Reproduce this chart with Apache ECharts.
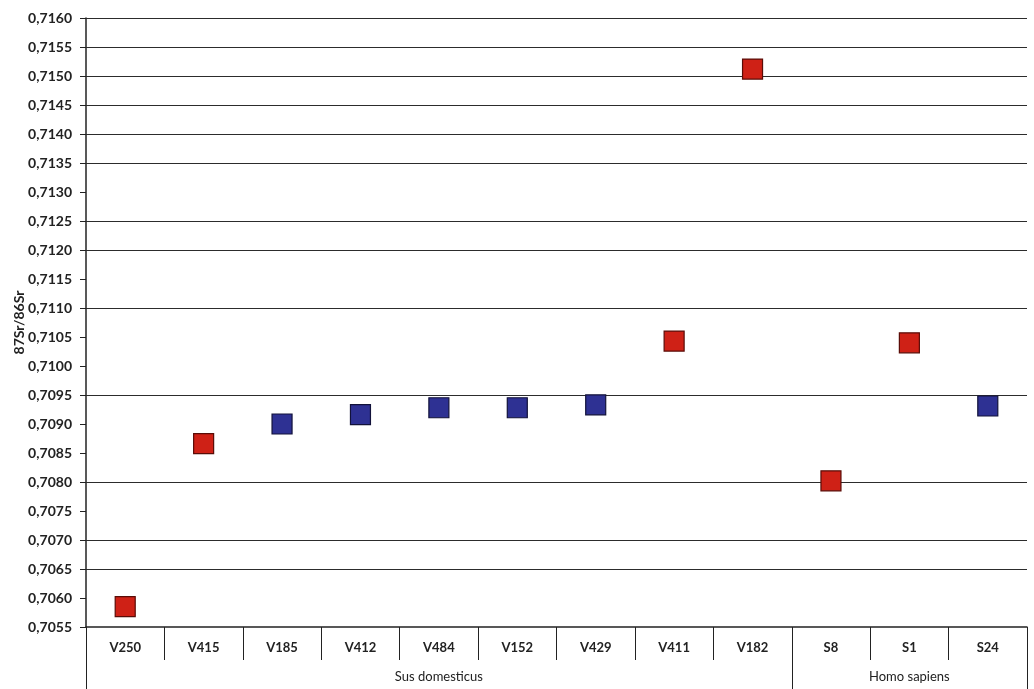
<!DOCTYPE html>
<html>
<head>
<meta charset="utf-8">
<script src="https://cdn.jsdelivr.net/npm/echarts@6/dist/echarts.min.js"></script>
<style>
  html, body { margin: 0; padding: 0; background: #fff; }
  #chart { width: 1034px; height: 689px; }
</style>
</head>
<body>
<div id="chart"></div>
<script>
// sample labels and group labels
const samples = ['V250', 'V415', 'V185', 'V412', 'V484', 'V152', 'V429', 'V411', 'V182', 'S8', 'S1', 'S24'];
const groups = ['', '', '', '', 'Sus domesticus', '', '', '', '', '', 'Homo sapiens', ''];
// 87Sr/86Sr values, red and blue markers
const redValues = [0.70585, 0.70866, '-', '-', '-', '-', '-', 0.71043, 0.71512, 0.70802, 0.71040, '-'];
const blueValues = ['-', '-', 0.70900, 0.70916, 0.70928, 0.70928, 0.70933, '-', '-', '-', '-', 0.70931];
// gridlines that are visible in the figure
const gridValues = [0.7160, 0.7155, 0.7150, 0.7145, 0.7140, 0.7135, 0.7125, 0.7120, 0.7110, 0.7095, 0.7080, 0.7070, 0.7065];

const chart = echarts.init(document.getElementById('chart'));
const font = 'Lato, "Liberation Sans", sans-serif';

chart.setOption({
  animation: false,
  textStyle: { fontFamily: font },
  grid: { left: 86, right: 7, top: 18, bottom: 62, outerBoundsMode: 'none' },
  xAxis: [
    {
      type: 'category',
      data: samples,
      axisLine: { lineStyle: { color: '#222', width: 1.5 } },
      axisTick: { show: true, length: 33, interval: 0, lineStyle: { color: '#222', width: 1 } },
      axisLabel: { interval: 0, margin: 14, fontSize: 13, fontWeight: 'bold', color: '#222', fontFamily: font }
    },
    {
      type: 'category',
      data: groups,
      position: 'bottom',
      offset: 33,
      axisLine: { show: false },
      axisTick: {
        show: true, length: 30,
        interval: function (i) { return i === 0 || i === 9; },
        lineStyle: { color: '#222', width: 1 }
      },
      axisLabel: { interval: 0, margin: 10, fontSize: 13, color: '#222', fontFamily: font }
    }
  ],
  yAxis: {
    type: 'value',
    min: 0.7055,
    max: 0.7160,
    interval: 0.0005,
    name: '87Sr/86Sr',
    nameLocation: 'middle',
    nameGap: 60,
    nameMoveOverlap: false,
    nameTextStyle: { fontSize: 14, fontWeight: 'bold', color: '#222', fontFamily: font },
    axisLine: { show: true, lineStyle: { color: '#222', width: 1.5 } },
    axisTick: { show: true, length: 6, lineStyle: { color: '#222' } },
    splitLine: { show: false },
    axisLabel: {
      fontSize: 14, fontWeight: 'bold', color: '#222', margin: 14, fontFamily: font,
      formatter: function (v) { return v.toFixed(4).replace('.', ','); }
    }
  },
  series: [
    {
      // horizontal gridlines drawn across the plot area
      type: 'custom',
      data: gridValues.map(function (v) { return [0, v]; }),
      silent: true,
      z: 1,
      renderItem: function (params, api) {
        const cs = params.coordSys;
        const y = Math.round(api.coord([0, api.value(1)])[1]) + 0.5;
        return {
          type: 'line',
          shape: { x1: cs.x, y1: y, x2: cs.x + cs.width, y2: y },
          style: { stroke: '#2c2c2c', lineWidth: 1.2 }
        };
      }
    },
    {
      type: 'scatter',
      data: redValues,
      symbol: 'rect',
      symbolSize: 20,
      itemStyle: { color: '#cf2116', borderColor: '#5a0c07', borderWidth: 1.2, opacity: 1 },
      z: 3
    },
    {
      type: 'scatter',
      data: blueValues,
      symbol: 'rect',
      symbolSize: 20,
      itemStyle: { color: '#2e3193', borderColor: '#12123a', borderWidth: 1.2, opacity: 1 },
      z: 3
    }
  ]
});
</script>
</body>
</html>
